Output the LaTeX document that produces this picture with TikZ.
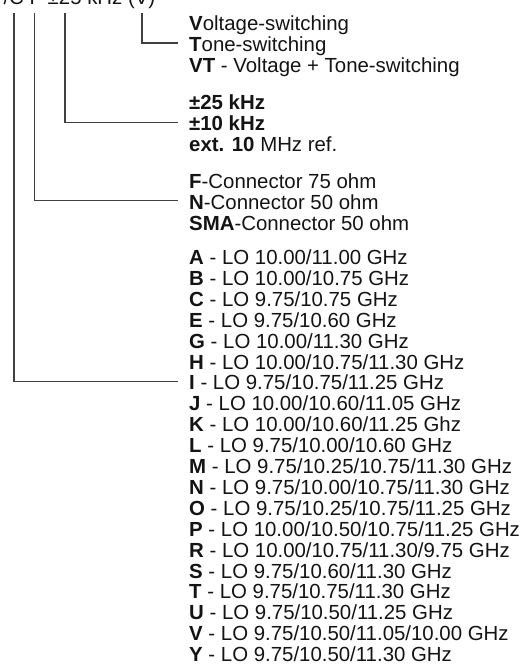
\documentclass[tikz,border=0pt]{standalone}
\usepackage{fontspec}
\setmainfont{Liberation Sans}
\begin{document}
\tikzset{
  txt/.style={anchor=west, inner xsep=11pt, inner ysep=0pt, text height=17pt, text depth=0pt,
    font=\fontsize{20.4}{21}\selectfont, text=black!92},
  conn/.style={line width=1.2pt, draw=black!75},
}
\begin{tikzpicture}[x=1pt,y=-1pt]
\useasboundingbox (0,0) rectangle (528,664);
\clip (0,0) rectangle (528,664);
\fill[white] (0,0) rectangle (528,664);
% top (cropped) code line
\node[anchor=base east, inner sep=0pt, font=\fontsize{20.4}{21}\selectfont, text=black!92] (code) at (155.5,4) {/C F ±25 kHz (V)};
\coordinate (top1) at (14,13);
\coordinate (top2) at (34.5,13);
\coordinate (top3) at (65,13);
\coordinate (top4) at (142,13);
% group 1
\node[txt] (vs) at (178,22) {\textbf{V}oltage-switching};
\node[txt] (ts) at (178,42.9) {\textbf{T}one-switching};
\node[txt] (vt) at (178,63.8) {\textbf{VT} - Voltage + Tone-switching};
% group 2
\node[txt] (k25) at (178,101.2) {\textbf{±25 kHz}};
\node[txt] (k10) at (178,122.1) {\textbf{±10 kHz}};
\node[txt] (ext) at (178,143) {\textbf{ext. 10} MHz ref.};
% group 3
\node[txt] (fc) at (178,179.7) {\textbf{F}-Connector 75 ohm};
\node[txt] (nc) at (178,200.6) {\textbf{N}-Connector 50 ohm};
\node[txt] (sc) at (178,221.5) {\textbf{SMA}-Connector 50 ohm};
% group 4
\foreach \t [count=\i from 0] in {
  {\textbf{A} - LO 10.00/11.00 GHz},
  {\textbf{B} - LO 10.00/10.75 GHz},
  {\textbf{C} - LO 9.75/10.75 GHz},
  {\textbf{E} - LO 9.75/10.60 GHz},
  {\textbf{G} - LO 10.00/11.30 GHz},
  {\textbf{H} - LO 10.00/10.75/11.30 GHz},
  {\textbf{I} - LO 9.75/10.75/11.25 GHz},
  {\textbf{J} - LO 10.00/10.60/11.05 GHz},
  {\textbf{K} - LO 10.00/10.60/11.25 Ghz},
  {\textbf{L} - LO 9.75/10.00/10.60 GHz},
  {\textbf{M} - LO 9.75/10.25/10.75/11.30 GHz},
  {\textbf{N} - LO 9.75/10.00/10.75/11.30 GHz},
  {\textbf{O} - LO 9.75/10.25/10.75/11.25 GHz},
  {\textbf{P} - LO 10.00/10.50/10.75/11.25 GHz},
  {\textbf{R} - LO 10.00/10.75/11.30/9.75 GHz},
  {\textbf{S} - LO 9.75/10.60/11.30 GHz},
  {\textbf{T} - LO 9.75/10.75/11.30 GHz},
  {\textbf{U} - LO 9.75/10.50/11.25 GHz},
  {\textbf{V} - LO 9.75/10.50/11.05/10.00 GHz},
  {\textbf{Y} - LO 9.75/10.50/11.30 GHz}}
  \node[txt] (lo\i) at (178,256+\i*20.9) {\t};
% connectors
\draw[conn] (top4) |- (ts.west);
\draw[conn] (top3) |- (k10.west);
\draw[conn] (top2) |- (nc.west);
\draw[conn] (top1) |- (lo6.west);
\end{tikzpicture}
\end{document}
